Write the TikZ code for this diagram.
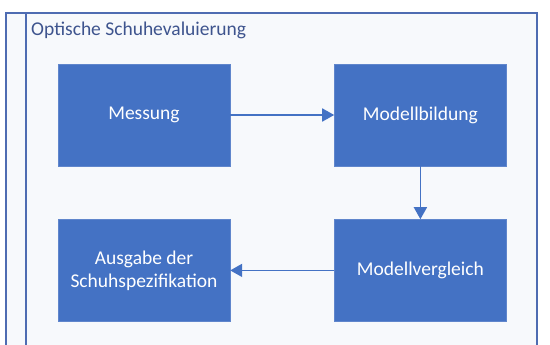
\documentclass[tikz,border=0pt]{standalone}
\usepackage{fontspec}
\setmainfont{Carlito}
\usetikzlibrary{positioning, arrows.meta}
\definecolor{officeblue}{RGB}{68,114,196}
\definecolor{boxedge}{RGB}{96,134,204}
\definecolor{framecol}{RGB}{78,108,178}
\definecolor{titlecol}{RGB}{62,84,142}
\definecolor{bgcol}{RGB}{247,249,252}

\begin{document}
\begin{tikzpicture}[x=1pt,y=-1pt,
  stepbox/.style={fill=officeblue, draw=boxedge, text=white, minimum width=172pt,
    minimum height=102pt, inner sep=0pt, align=center, font=\fontsize{19.5}{23}\selectfont},
  flow/.style={draw=officeblue, line width=1.8pt, -{Triangle[length=12pt,width=13pt]}}]
\useasboundingbox (0,0) rectangle (550,345);
% frame of the swimlane
\fill[bgcol] (6,13) rectangle (537,345);
\draw[framecol, line width=1.3pt] (6,345) -- (6,13) -- (537,13) -- (537,345);
\draw[framecol, line width=1.3pt] (26,13) -- (26,345);
\node[anchor=base west, text=titlecol, inner sep=0pt, font=\fontsize{19.5}{23}\selectfont] (title) at (31,36) {Optische Schuhevaluierung};
% process steps
\node[stepbox] (mess) at (144,115) {Messung};
\node[stepbox, right=104pt of mess] (bild) {Modellbildung};
\node[stepbox, below=53pt of bild] (vergl) {Modellvergleich};
\node[stepbox, below=53pt of mess] (ausg) {Ausgabe der\\Schuhspezifikation};
% connectors
\draw[flow] (mess) -- (bild);
\draw[flow] (bild) -- (vergl);
\draw[flow] (vergl) -- (ausg);
\end{tikzpicture}
\end{document}
